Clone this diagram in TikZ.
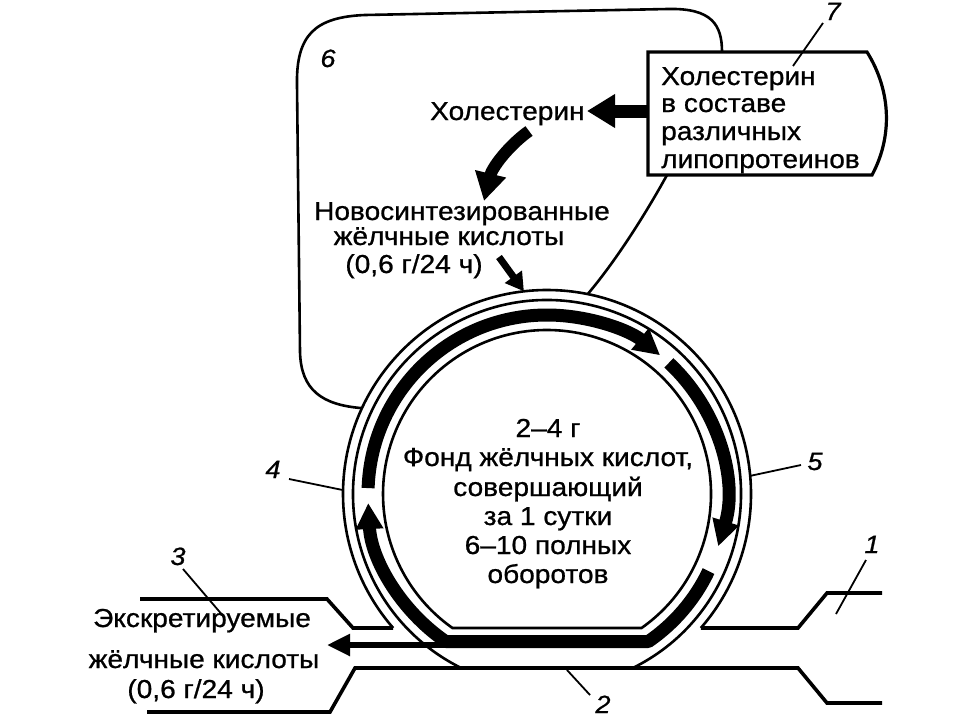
\documentclass[tikz,border=0pt]{standalone}
\usepackage{fontspec}
\setmainfont[FakeStretch=1.08,FakeBold=0.8]{Liberation Sans}
\usetikzlibrary{arrows.meta}
\begin{document}
\begin{tikzpicture}[x=1pt,y=-1pt,
  thin/.style={line width=2.6pt},
  pipe/.style={line width=3.6pt},
  leader/.style={line width=1.8pt},
  band/.style={line width=13pt},
  bandtip/.style={-{Triangle[width=26pt,length=26pt]}},
  txt/.style={font=\fontsize{26}{29}\selectfont, inner sep=0pt, anchor=base},
  num/.style={font=\fontsize{25}{28}\selectfont\itshape, inner sep=0pt, anchor=base},
]
\useasboundingbox (0,0) rectangle (960,720);

% ---- circle (pool) ----
\begin{scope}[shift={(547,494)}]
  \coordinate (Ar) at (41.06:204);
  \coordinate (Al) at (138.94:204);
  \coordinate (A4) at (181.1:204);
  \coordinate (A5) at (-5.1:204);
  \coordinate (Aloopa) at (204.9:204);
  \coordinate (Aloopb) at (281.5:204);
  \coordinate (Ain) at (263.5:204);
  \draw[thin] (Ar) arc[start angle=41.06, end angle=-221.06, radius=204];
  \draw[thin] (63.78:194) arc[start angle=63.78, end angle=-243.78, radius=194];
  \draw[thin] (54.8:164) arc[start angle=54.8, end angle=-234.8, radius=164] -- cycle;
  \draw[band,bandtip] (181.9:179) arc[start angle=181.9, end angle=309.2, radius=179];
  \draw[band,bandtip] (312.9:179) arc[start angle=312.9, end angle=377, radius=179];
  \draw[band,bandtip,line join=round] (25.5:179) arc[start angle=25.5, end angle=55.5, radius=179]
      -- (124.5:179) arc[start angle=124.5, end angle=177.1, radius=179];
\end{scope}

% ---- excretion arrow ----
\coordinate (exs) at (462,645);
\coordinate (ext) at (327,645);
\draw[line width=5.5pt,-{Triangle[width=21pt,length=23pt]}] (exs) -- (ext);

% ---- intestine ----
\draw[pipe] (140,599) -- (327,599) -- (353,628) -- (Al);
\draw[pipe] (147,712) -- (330,712) -- (355,668) -- (798,668) -- (827,703) -- (882,703);
\draw[pipe] (Ar) -- (798,628) -- (827,593) -- (882,593);

% ---- box 7 ----
\coordinate (btl) at (648,52);
\coordinate (btr) at (867,52);
\coordinate (bbr) at (872,175);
\coordinate (bbl) at (648,175);
\draw[line width=3.2pt] (btl) -- (btr) .. controls (892,92) and (892,138) .. (bbr) -- (bbl) -- cycle;
\node[txt,anchor=base west] (b1) at (661,85) {Холестерин};
\node[txt,anchor=base west] (b2) at (661,112) {в составе};
\node[txt,anchor=base west] (b3) at (661,140) {различных};
\node[txt,anchor=base west] (b4) at (661,168) {липопротеинов};

% ---- loop 6 ----
\coordinate (ltop) at (722,52);
\coordinate (lbot) at (667,175);
\draw[thin] (Aloopa) .. controls (322,405) and (301,390) .. (300,352) -- (297,85)
   .. controls (296,35) and (315,17) .. (365,15) -- (668,9)
   .. controls (712,8) and (722,25) .. (ltop);
\draw[thin] (lbot) .. controls (645,215) and (615,262) .. (Aloopb);

% ---- upper texts and arrows ----
\node[txt,anchor=base west] (hol) at (430,120) {Холестерин};
\node[txt] (n1) at (462,220) {Новосинтезированные};
\node[txt] (n2) at (449,245) {жёлчные кислоты};
\node[txt] (n3) at (414,273) {(0,6 г/24 ч)};

\coordinate (hs) at (649,111);
\coordinate (ht) at (587,111);
\draw[line width=13pt,-{Triangle[width=32pt,length=28pt]}] (hs) -- (ht);

\coordinate (cs) at (529,131);
\coordinate (ct) at (484,201);
\draw[line width=12pt,-{Triangle[width=30pt,length=28pt]}] (cs) .. controls (508,146) and (492,168) .. (ct);

\coordinate (ns) at (499,257);
\draw[line width=7pt,-{Triangle[width=20pt,length=18pt]}] (ns) -- (Ain);

% ---- centre text ----
\node[txt] (c1) at (548,437) {2–4 г};
\node[txt] (c2) at (548,466) {Фонд жёлчных кислот,};
\node[txt] (c3) at (548,496) {совершающий};
\node[txt] (c4) at (548,525) {за 1 сутки};
\node[txt] (c5) at (548,554) {6–10 полных};
\node[txt] (c6) at (548,583) {оборотов};

% ---- lower left text ----
\node[txt] (e1) at (202,627) {Экскретируемые};
\node[txt] (e2) at (204,668) {жёлчные кислоты};
\node[txt] (e3) at (196,698) {(0,6 г/24 ч)};

% ---- numbers and leaders ----
\node[num] (l6) at (328,67) {6};
\node[num] (l7) at (833,20) {7};
\node[num] (l4) at (273,478) {4};
\node[num] (l5) at (815,470) {5};
\node[num] (l3) at (178,565) {3};
\node[num] (l1) at (872,553) {1};
\node[num] (l2) at (603,713) {2};

\coordinate (q7a) at (823,23);  \coordinate (q7b) at (793,66);
\coordinate (q4) at (289,479);
\coordinate (q5) at (801,465);
\coordinate (q3a) at (183,569); \coordinate (q3b) at (224,617);
\coordinate (q1a) at (866,560); \coordinate (q1b) at (836,614);
\coordinate (q2a) at (567,670); \coordinate (q2b) at (590,695);
\draw[leader] (q7a) -- (q7b);
\draw[leader] (q4) -- (A4);
\draw[leader] (q5) -- (A5);
\draw[leader] (q3a) -- (q3b);
\draw[leader] (q1a) -- (q1b);
\draw[leader] (q2a) -- (q2b);
\end{tikzpicture}
\end{document}
